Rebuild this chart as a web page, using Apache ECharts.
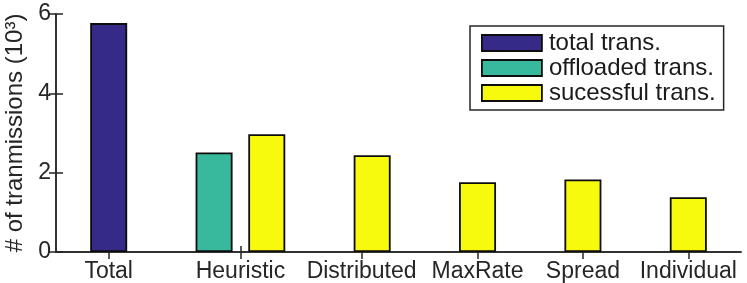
<!DOCTYPE html>
<html>
<head>
<meta charset="utf-8">
<script src="https://cdn.jsdelivr.net/npm/echarts@6/dist/echarts.min.js"></script>
<style>
html,body{margin:0;padding:0;background:#fff;}
#chart{width:747px;height:283px;}
</style>
</head>
<body>
<div id="chart"></div>
<script>
// Category tick positions and labels (x positions as in original figure)
const tickPositions = [0.5, 1.75, 2.9, 4, 5, 6];
const tickLabels = ['Total', 'Heuristic', 'Distributed', 'MaxRate', 'Spread', 'Individual'];
const seriesNames = ['total trans.', 'offloaded trans.', 'sucessful trans.'];
// bar positions (x) and values (10^3 transmissions)
const totalX = [0.5];
const totalVals = [5.77];
const offloadedX = [1.5];
const offloadedVals = [2.51];
const successX = [2.0, 3.0, 4.0, 5.0, 6.0];
const successVals = [2.97, 2.44, 1.76, 1.83, 1.38];
const yTicks = [0, 2, 4, 6];

const colors = ['#352a87', '#38b99d', '#f8fa0d'];
const font = '"Liberation Sans", Arial, Helvetica, sans-serif';
const axisColor = '#262626';
const fs = 23;

function pairs(xs, ys){ return xs.map((x,i)=>[x, ys[i]]); }
function lab(v){
  for (let i=0;i<tickPositions.length;i++) if (Math.abs(tickPositions[i]-v)<1e-6) return tickLabels[i];
  return '';
}

const chart = echarts.init(document.getElementById('chart'), null, {renderer:'canvas'});
const barCommon = {
  type: 'bar',
  barWidth: 37,
  barGap: '-100%',
  itemStyle: { borderColor: '#0d0d0d', borderWidth: 1.8 },
  emphasis: { disabled: true },
  animation: false
};
chart.setOption({
  animation: false,
  grid: { left: 56, right: 6, top: 14, bottom: 31, containLabel: false, outerBoundsMode: 'none' },
  legend: {
    orient: 'vertical',
    left: 470, top: 26,
    backgroundColor: '#fff',
    borderColor: axisColor, borderWidth: 1.5,
    padding: [5, 8, 5, 11],
    itemWidth: 60, itemHeight: 16, itemGap: 1,
    icon: 'rect',
    itemStyle: { borderColor: '#0d0d0d', borderWidth: 1.8 },
    textStyle: { fontFamily: font, fontSize: 24, color: '#1a1a1a', lineHeight: 21, padding: [0,0,0,2] },
    data: seriesNames
  },
  xAxis: [{
    type: 'value', min: 0, max: 6.5, position: 'bottom',
    splitLine: { show: false },
    axisLine: { show: true, lineStyle: { color: axisColor, width: 1.5 } },
    axisTick: { show: true, inside: true, length: 6, customValues: tickPositions, lineStyle: { color: axisColor, width: 1.5 } },
    axisLabel: { customValues: tickPositions, formatter: lab, fontFamily: font, fontSize: fs, color: '#262626', margin: 8 }
  }, {
    type: 'value', min: 0, max: 6.5, position: 'top',
    splitLine: { show: false },
    axisLine: { show: true, lineStyle: { color: axisColor, width: 1.5 } },
    axisTick: { show: true, inside: true, length: 7, customValues: tickPositions, lineStyle: { color: axisColor, width: 1.5 } },
    axisLabel: { show: false }
  }],
  yAxis: [{
    type: 'value', min: 0, max: 6, interval: 2, position: 'left',
    name: '# of tranmissions (10³)',
    nameLocation: 'middle', nameGap: 29, nameRotate: 90,
    nameTextStyle: { fontFamily: font, fontSize: 24, color: '#262626' },
    splitLine: { show: false },
    axisLine: { show: true, lineStyle: { color: axisColor, width: 1.5 } },
    axisTick: { show: true, inside: true, length: 7, lineStyle: { color: axisColor, width: 1.5 } },
    axisLabel: { fontFamily: font, fontSize: fs, color: '#262626', margin: 5 }
  }, {
    type: 'value', min: 0, max: 6, interval: 2, position: 'right',
    splitLine: { show: false },
    axisLine: { show: true, lineStyle: { color: axisColor, width: 1.5 } },
    axisTick: { show: true, inside: true, length: 7, lineStyle: { color: axisColor, width: 1.5 } },
    axisLabel: { show: false }
  }],
  series: [
    Object.assign({}, barCommon, { name: seriesNames[0], data: pairs(totalX, totalVals), color: colors[0] }),
    Object.assign({}, barCommon, { name: seriesNames[1], data: pairs(offloadedX, offloadedVals), color: colors[1] }),
    Object.assign({}, barCommon, { name: seriesNames[2], data: pairs(successX, successVals), color: colors[2] })
  ]
});
</script>
</body>
</html>
